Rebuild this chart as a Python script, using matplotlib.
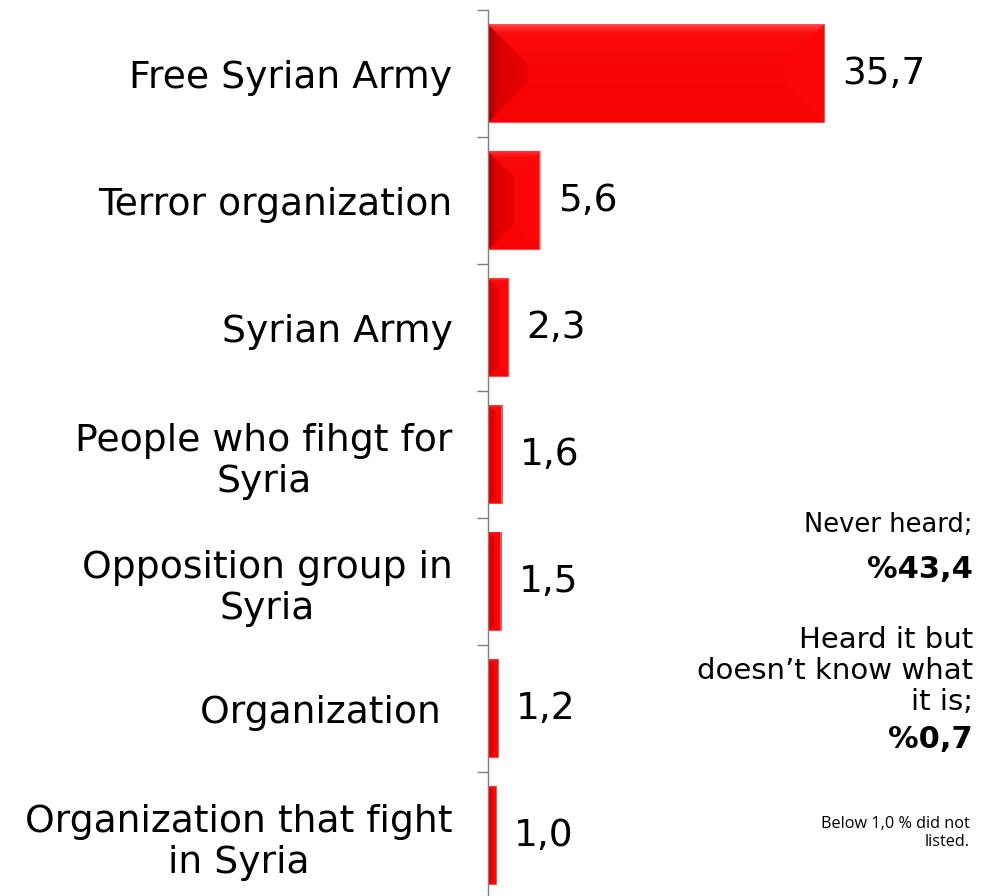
import matplotlib
matplotlib.use("Agg")
import matplotlib.pyplot as plt
import numpy as np
from matplotlib.patches import Polygon, Rectangle
from matplotlib.colors import LinearSegmentedColormap

categories = ["Free Syrian Army", "Terror organization", "Syrian Army",
              "People who fihgt for\nSyria", "Opposition group in\nSyria",
              "Organization ", "Organization that fight\nin Syria"]
values = [35.7, 5.6, 2.3, 1.6, 1.5, 1.2, 1.0]
value_labels = ["35,7", "5,6", "2,3", "1,6", "1,5", "1,2", "1,0"]

W, H = 1000, 896
fig = plt.figure(figsize=(W / 100, H / 100), dpi=100)
plt.rcParams['font.family'] = ['DejaVu Sans']

ax_left = 487.5 / W
ax_top = 1 - 10 / H
ax_bottom = (H - 899) / H
ax = fig.add_axes([ax_left, ax_bottom, 1 - ax_left, ax_top - ax_bottom])
n = len(categories)
ypos = np.arange(n)
px_per_unit = 9.45
ax.set_xlim(0, (W - 487.5) / px_per_unit)
ax.set_ylim(n - 0.5, -0.5)

bar_h = 0.78
bars = ax.barh(ypos, values, height=bar_h, color="#F80505", edgecolor="none", zorder=2)

inv = ax.transData.inverted()
p0 = inv.transform((0, 0))
p1 = inv.transform((1, 1))
unit_x, unit_y = abs(p1[0] - p0[0]), abs(p1[1] - p0[1])

left_cmap = LinearSegmentedColormap.from_list(
    "lb", [(0, "#5A0000"), (0.06, "#B00000"), (0.25, "#DC0000"), (1, "#E80202")])
top_cmap = LinearSegmentedColormap.from_list(
    "tb", [(0, "#FF5252"), (0.08, "#FF2A2A"), (0.25, "#FA0C0C"), (1, "#F90606")])

for i, v in enumerate(values):
    w_px = v / unit_x
    h_px = bar_h / unit_y
    d = min(40, w_px / 2, h_px / 2)
    dx, dy = d * unit_x, d * unit_y
    yt, yb = i - bar_h / 2, i + bar_h / 2
    left = [(0, yt), (dx, yt + dy), (dx, yb - dy), (0, yb)]
    top = [(0, yt), (v, yt), (v - dx, yt + dy), (dx, yt + dy)]
    right = [(v, yt), (v, yb), (v - dx, yb - dy), (v - dx, yt + dy)]
    bottom = [(0, yb), (dx, yb - dy), (v - dx, yb - dy), (v, yb)]
    tp = Polygon(top, closed=True, facecolor="#F90606", edgecolor="none", zorder=3)
    ax.add_patch(tp)
    tim = ax.imshow(np.linspace(0, 1, 64).reshape(-1, 1), cmap=top_cmap,
                    extent=(0, v, yt + dy, yt), aspect="auto", zorder=3.05,
                    interpolation="bilinear")
    tim.set_clip_path(tp)
    ax.add_patch(Polygon(right, closed=True, facecolor="#FC0707", edgecolor="none", zorder=3))
    ax.add_patch(Polygon(bottom, closed=True, facecolor="#F70303", edgecolor="none", zorder=3))
    lp = Polygon(left, closed=True, facecolor="#E40000", edgecolor="none", zorder=3)
    ax.add_patch(lp)
    lim = ax.imshow(np.linspace(0, 1, 64).reshape(1, -1), cmap=left_cmap,
                    extent=(0, dx, yb, yt), aspect="auto", zorder=3.1,
                    interpolation="bilinear")
    lim.set_clip_path(lp)
    ax.add_patch(Rectangle((0, yb - 1.5 * unit_y), v, 1.5 * unit_y, facecolor="#FF6A6A",
                           edgecolor="none", zorder=3.2, alpha=0.7))
    ax.add_patch(Rectangle((v - 1.2 * unit_x, yt), 1.2 * unit_x, bar_h, facecolor="#FF8080",
                           edgecolor="none", zorder=3.2, alpha=0.6))
    ax.annotate(value_labels[i], xy=(v, i), xytext=(12.5, 0), textcoords="offset points",
                ha="left", va="center", fontsize=27, color="black", zorder=4)

ax.set_xlim(0, (W - 487.5) / px_per_unit)
ax.set_ylim(n - 0.5, -0.5)

for s in ["top", "right", "bottom"]:
    ax.spines[s].set_visible(False)
ax.spines["left"].set_color("#7F7F7F")
ax.spines["left"].set_linewidth(1.0)
ax.spines["left"].set_zorder(5)
ax.set_xticks([])
ax.set_yticks(ypos)
ax.set_yticklabels(categories, fontsize=27.2)
for lab in ax.get_yticklabels():
    lab.set_multialignment("center")
ax.tick_params(axis="y", which="major", length=0, pad=25.2)
ax.set_yticks(np.arange(-0.5, n, 1.0), minor=True)
ax.tick_params(axis="y", which="minor", length=8, width=1.0, color="#7F7F7F", direction="out")
ax.patch.set_visible(False)

def fy(py):
    return 1 - py / H

fig.text(973 / W, fy(525), "Never heard;", ha="right", va="center", fontsize=18.5)
fig.text(973 / W, fy(569), "%43,4", ha="right", va="center", fontsize=22, fontweight="bold")
fig.text(973 / W, fy(671), "Heard it but\ndoesn\u2019t know what\nit is;", ha="right", va="center",
         fontsize=21, multialignment="right", linespacing=1.15)
fig.text(973 / W, fy(740), "%0,7", ha="right", va="center", fontsize=22, fontweight="bold")
fig.text(970 / W, fy(833), "Below 1,0 % did not\nlisted.", ha="right", va="center",
         fontsize=11.7, family=["Open Sans", "DejaVu Sans"], multialignment="right")

fig.savefig("out.png", dpi=100)
